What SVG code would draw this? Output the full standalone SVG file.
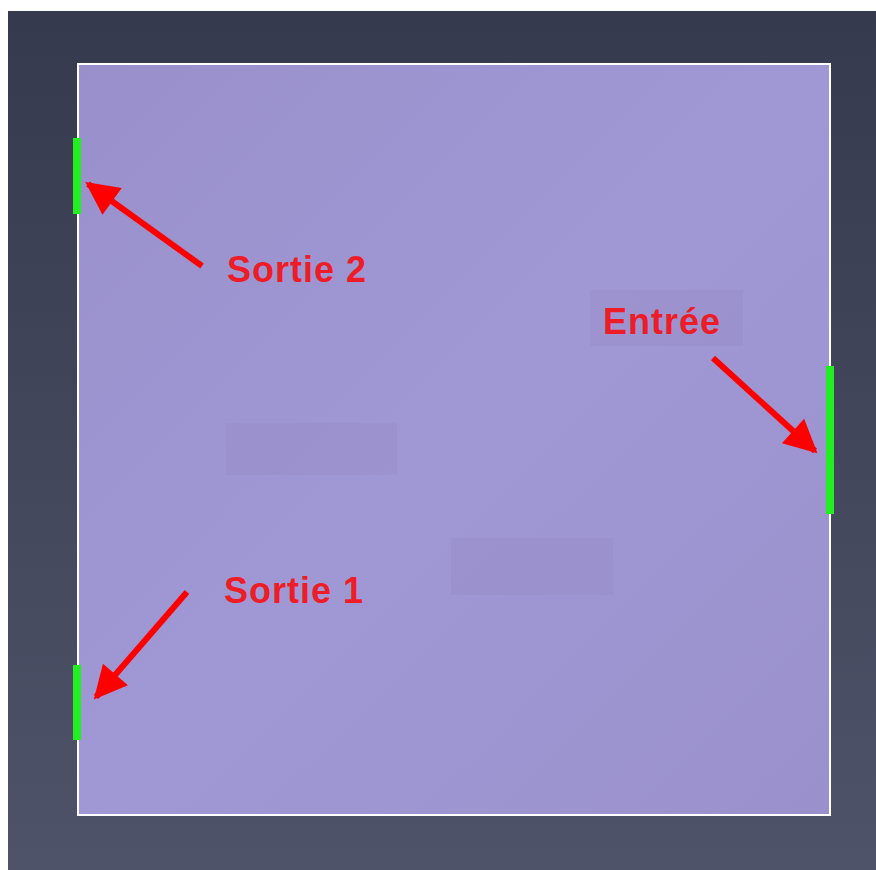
<svg xmlns="http://www.w3.org/2000/svg" width="876" height="870" viewBox="0 0 876 870">
<defs>
<linearGradient id="bg" x1="0" y1="0" x2="0" y2="1">
<stop offset="0" stop-color="#353a4e"/>
<stop offset="1" stop-color="#4f5369"/>
</linearGradient>
<linearGradient id="pf" x1="0" y1="0" x2="1" y2="1">
<stop offset="0" stop-color="#9990cb"/>
<stop offset="0.5" stop-color="#a098d5"/>
<stop offset="1" stop-color="#9a91cc"/>
</linearGradient>
<marker id="ah" viewBox="0 0 10 10" refX="9" refY="5" markerWidth="6" markerHeight="5.5" markerUnits="strokeWidth" orient="auto">
<path d="M0,0 L10,5 L0,10 Z" fill="#ff0000"/>
</marker>
<style>
.lbl{font-family:"Liberation Sans",Arial,sans-serif;font-weight:bold;font-size:36px;letter-spacing:1px;fill:#ee1c26}
.port{fill:#22ee22}
.arr{stroke:#ff0000;stroke-width:6;fill:none;marker-end:url(#ah)}
.faint{fill:#958bc6;opacity:0.4}
</style>
</defs>
<rect x="0" y="0" width="876" height="870" fill="#ffffff"/>
<rect x="8" y="11" width="868" height="859" fill="url(#bg)"/>
<g id="domain">
<rect x="78" y="64" width="752" height="751" fill="url(#pf)" stroke="#ffffff" stroke-width="2"/>
<rect class="faint" x="590" y="290" width="153" height="56"/>
<rect class="faint" x="226" y="423" width="171" height="52"/>
<rect class="faint" x="451" y="538" width="162" height="57"/>
</g>
<g id="sortie2">
<rect class="port" x="73" y="138" width="8" height="76"/>
<text class="lbl" x="227" y="282">Sortie 2</text>
</g>
<g id="sortie1">
<rect class="port" x="73" y="665" width="8" height="75"/>
<text class="lbl" x="224" y="603">Sortie 1</text>
</g>
<g id="entree">
<rect class="port" x="826" y="366" width="8" height="148"/>
<text class="lbl" x="603" y="334">Entrée</text>
</g>
<g id="connectors">
<line class="arr" x1="202" y1="266" x2="88" y2="184"/>
<line class="arr" x1="187" y1="592" x2="96" y2="697"/>
<line class="arr" x1="713" y1="358" x2="815" y2="451"/>
</g>
</svg>
